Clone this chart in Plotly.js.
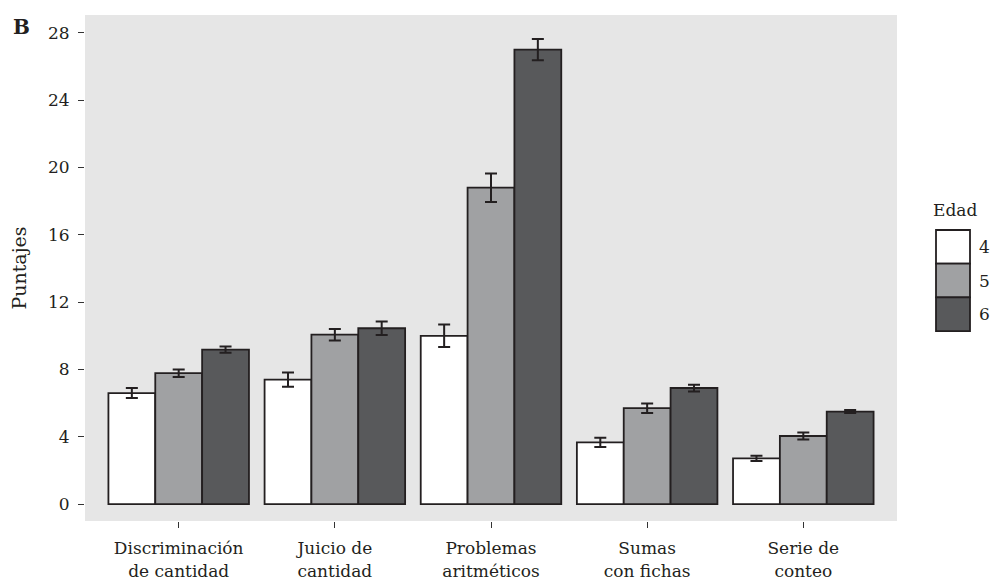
<!DOCTYPE html>
<html><head><meta charset="utf-8">
<script src="https://cdn.plot.ly/plotly-3.0.1.min.js"></script>
<style>html,body{margin:0;padding:0;background:#fff;}#chart{width:992px;height:579px;}</style>
</head><body><div id="chart"></div>
<script>
const categories = ["Discriminación<br>de cantidad", "Juicio de<br>cantidad", "Problemas<br>aritméticos", "Sumas<br>con fichas", "Serie de<br>conteo"];
const ages = ["4", "5", "6"];
const colors = ["#ffffff", "#a0a1a3", "#58595b"];
const values4 = [6.6, 7.4, 10.0, 3.67, 2.72];
const errors4 = [0.3, 0.42, 0.67, 0.27, 0.16];
const values5 = [7.78, 10.07, 18.8, 5.7, 4.05];
const errors5 = [0.22, 0.34, 0.85, 0.28, 0.21];
const values6 = [9.18, 10.45, 27.0, 6.9, 5.5];
const errors6 = [0.18, 0.4, 0.63, 0.2, 0.09];
const yTicks = [0, 4, 8, 12, 16, 20, 24, 28];

const vals = [values4, values5, values6];
const errs = [errors4, errors5, errors6];
const font = "DejaVu Serif, Liberation Serif, serif";
const ink = "#231f20";

const traces = ages.map((a, i) => ({
  type: "bar",
  name: a,
  x: categories.map((c, k) => k),
  y: vals[i],
  marker: {color: colors[i], line: {color: ink, width: 1.8}},
  error_y: {type: "data", array: errs[i], visible: true, color: ink, thickness: 2, width: 6},
  showlegend: false,
  hoverinfo: "none"
}));

const px = x => (x - 85) / 812;
const py = y => (521 - y) / 506;

const shapes = [];
const annotations = [
  {text: "<b>B</b>", xref: "paper", yref: "paper", x: px(11), y: py(13), xanchor: "left", yanchor: "top",
   showarrow: false, font: {family: font, size: 20, color: ink}},
  {text: "Edad", xref: "paper", yref: "paper", x: px(931), y: py(222),
   xanchor: "left", yanchor: "bottom", showarrow: false, font: {family: font, size: 17, color: ink}}
];
const legX0 = 936, legX1 = 970, legY0 = 230, legH = 33.7;
ages.forEach((a, i) => {
  shapes.push({type: "rect", xref: "paper", yref: "paper",
    x0: px(legX0), x1: px(legX1),
    y0: py(legY0 + i * legH), y1: py(legY0 + (i + 1) * legH),
    fillcolor: colors[i], line: {color: ink, width: 1.8}});
  annotations.push({text: a, xref: "paper", yref: "paper", x: px(977),
    y: py(legY0 + (i + 0.5) * legH), xanchor: "left", yanchor: "middle",
    showarrow: false, font: {family: font, size: 17, color: ink}});
});

const layout = {
  width: 992, height: 579,
  margin: {l: 85, r: 95, t: 15, b: 58},
  paper_bgcolor: "#ffffff",
  plot_bgcolor: "#e6e6e6",
  barmode: "group",
  bargap: 0.1, bargroupgap: 0,
  font: {family: font, size: 17, color: ink},
  xaxis: {
    range: [-0.6, 4.6], tickmode: "array", tickvals: categories.map((c, k) => k), ticktext: categories,
    ticks: "outside", ticklen: 6, tickcolor: "#333333", tickwidth: 1, ticklabelstandoff: 6,
    showgrid: false, zeroline: false, showline: false, fixedrange: true,
    tickfont: {family: font, size: 17, color: ink}
  },
  yaxis: {
    range: [-1.0, 29.06], tickmode: "array", tickvals: yTicks, ticktext: yTicks.map(String),
    ticks: "outside", ticklen: 6, tickcolor: "#333333", tickwidth: 1, ticklabelstandoff: 5,
    showgrid: false, zeroline: false, showline: false, fixedrange: true,
    tickfont: {family: font, size: 17, color: ink},
    title: {text: "Puntajes", font: {family: font, size: 19, color: ink}, standoff: 16}
  },
  shapes: shapes,
  annotations: annotations,
  showlegend: false
};

Plotly.newPlot("chart", traces, layout, {displayModeBar: false, staticPlot: true});
</script></body></html>
